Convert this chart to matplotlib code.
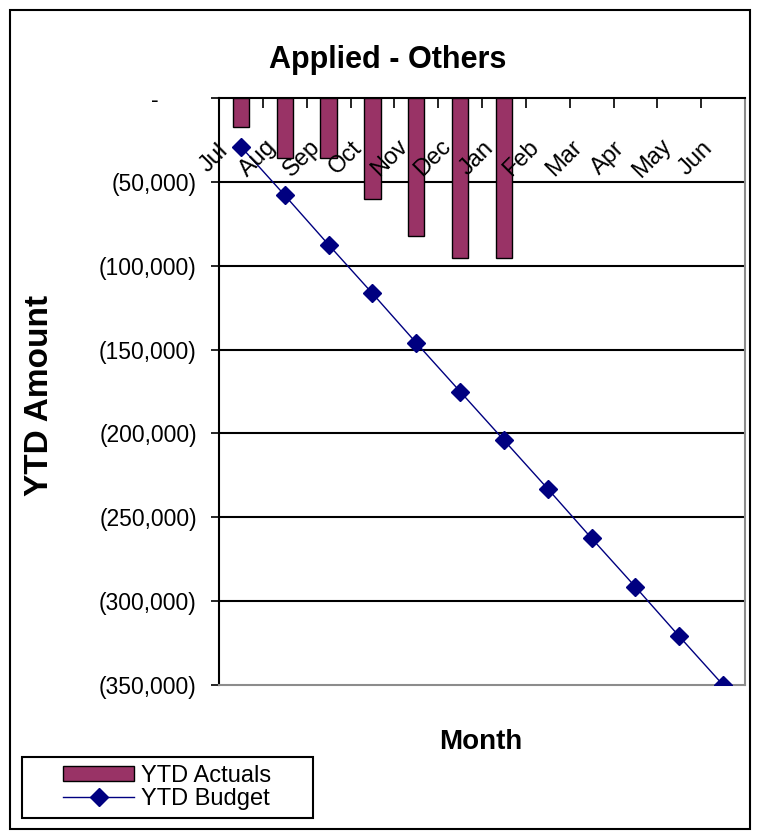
import matplotlib
matplotlib.use("Agg")
import matplotlib.pyplot as plt
from matplotlib.patches import Rectangle, Patch
from matplotlib.lines import Line2D
from matplotlib.ticker import FuncFormatter

months = ["Jul", "Aug", "Sep", "Oct", "Nov", "Dec", "Jan", "Feb", "Mar", "Apr", "May", "Jun"]
ytd_actuals = [-17000, -35500, -35500, -60000, -82000, -95500, -95500]
ytd_budget = [-29000, -58000, -87500, -116500, -146000, -175000, -204000,
              -233000, -262500, -291500, -321000, -350000]
yticks = [0, -50000, -100000, -150000, -200000, -250000, -300000, -350000]

plt.rcParams['font.family'] = ['Liberation Sans', 'DejaVu Sans']

W, H = 760, 832
fig = plt.figure(figsize=(W / 100, H / 100), dpi=100)
fig.patch.set_facecolor('white')

def fx(px):
    return px / W

def fy(py):
    return 1 - py / H

left, right, top, bottom = 219, 745, 98, 685
ax = fig.add_axes([fx(left), fy(bottom), fx(right - left), (bottom - top) / H])

n = len(months)
xs = list(range(n))
ax.bar(xs[:len(ytd_actuals)], ytd_actuals, width=0.37, color='#993366',
       edgecolor='black', linewidth=1.0, zorder=3)
ax.plot(xs, ytd_budget, color='#000080', linewidth=1.0, marker='D',
        markersize=9, markerfacecolor='#000080', markeredgecolor='#000080', zorder=4)

ax.set_xlim(-0.5, n - 0.5)
ax.set_ylim(-350000, 0)

# gridlines
for v in yticks[1:-1]:
    ax.axhline(v, color='black', linewidth=1.5, zorder=1)

ax.set_yticks(yticks)
def fmt(v, pos):
    if v == 0:
        return '-      '
    return '({:,.0f})'.format(abs(v))
ax.yaxis.set_major_formatter(FuncFormatter(fmt))
ax.tick_params(axis='y', direction='out', length=6, width=1.2, labelsize=16.5, pad=10, color='black')

# x ticks at category boundaries along the top axis line
ax.set_xticks([i - 0.5 for i in range(n + 1)])
ax.tick_params(axis='x', which='both', bottom=False, labelbottom=False,
               top=True, direction='in', length=7, width=1.2)
ax.xaxis.set_ticks_position('top')
ax.tick_params(axis='x', labeltop=False)

for sp in ['left', 'top']:
    ax.spines[sp].set_color('black')
    ax.spines[sp].set_linewidth(1.5)
for sp in ['right', 'bottom']:
    ax.spines[sp].set_color('#8c8c8c')
    ax.spines[sp].set_linewidth(1.5)

for i, m in enumerate(months):
    ax.annotate(m, xy=(i, 0), xytext=(-27, -60), textcoords='offset pixels',
                ha='center', va='center', rotation=45, fontsize=17,
                rotation_mode='anchor', zorder=5)

fig.text(fx(388), fy(60), 'Applied - Others', ha='center', va='center',
         fontsize=22, fontweight='bold')
fig.text(fx(481), fy(742), 'Month', ha='center', va='center',
         fontsize=20, fontweight='bold')
fig.text(fx(40), fy(395), 'YTD Amount', ha='center', va='center',
         fontsize=24, fontweight='bold', rotation=90)

# legend (frame drawn separately, entries centred inside it)
lx0, lx1, ly0, ly1 = 22, 313, 757, 818
fig.add_artist(Rectangle((fx(lx0), fy(ly1)), fx(lx1 - lx0), (ly1 - ly0) / H,
                         transform=fig.transFigure, fill=False,
                         edgecolor='black', linewidth=1.5))
handles = [Patch(facecolor='#993366', edgecolor='black', linewidth=1.0),
           Line2D([0], [0], color='#000080', linewidth=1.0, marker='D',
                  markersize=9, markerfacecolor='#000080')]
leg = fig.legend(handles, ['YTD Actuals', 'YTD Budget'],
                 loc='center',
                 bbox_to_anchor=(fx((lx0 + lx1) / 2), fy((ly0 + ly1) / 2)),
                 fontsize=17, frameon=False, borderpad=0.0, labelspacing=0.05,
                 handlelength=3.0, handleheight=0.6, handletextpad=0.3,
                 borderaxespad=0)

# outer chart border
fig.add_artist(Rectangle((fx(10), fy(829)), fx(750 - 10), (829 - 10) / H,
                         transform=fig.transFigure, fill=False,
                         edgecolor='black', linewidth=1.5))

fig.savefig('out.png', dpi=100)
